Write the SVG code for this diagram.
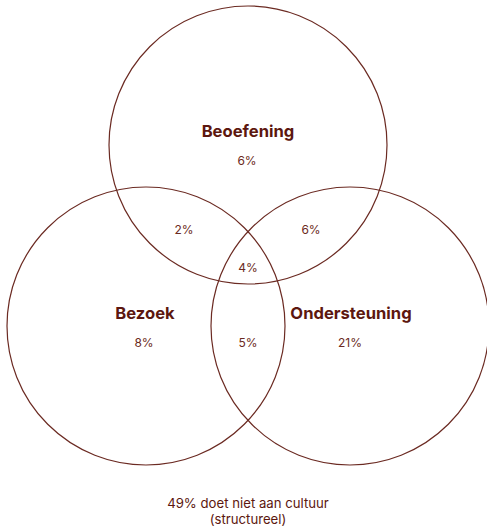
<svg xmlns="http://www.w3.org/2000/svg" width="487" height="530" viewBox="0 0 487 530">
<style>
.c{fill:none;stroke:#6b2a22;stroke-width:1.2}
.t{font-family:Inter,"Liberation Sans",sans-serif;font-weight:700;font-size:16.6px;fill:#5c170f;text-anchor:middle}
.p{font-family:Inter,"Liberation Sans",sans-serif;font-size:12px;fill:#6b2a22;text-anchor:middle}
.f{font-family:Inter,"Liberation Sans",sans-serif;font-size:13.2px;fill:#5c170f;text-anchor:middle}
</style>
<rect width="487" height="530" fill="#fff"/>
<g id="beoefening">
<circle class="c" cx="248" cy="145" r="139"/>
<text class="t" x="248" y="137">Beoefening</text>
<text class="p" x="247" y="165">6%</text>
</g>
<g id="bezoek">
<circle class="c" cx="146" cy="326" r="139"/>
<text class="t" x="145" y="319">Bezoek</text>
<text class="p" x="144" y="347">8%</text>
</g>
<g id="ondersteuning">
<circle class="c" cx="350" cy="326" r="139"/>
<text class="t" x="351" y="319">Ondersteuning</text>
<text class="p" x="350" y="347">21%</text>
</g>
<g id="overlaps">
<text class="p" x="184" y="234">2%</text>
<text class="p" x="311" y="234">6%</text>
<text class="p" x="248" y="272">4%</text>
<text class="p" x="248" y="347">5%</text>
</g>
<g id="footer">
<text class="f" x="248" y="508">49% doet niet aan cultuur</text>
<text class="f" x="248" y="524">(structureel)</text>
</g>
</svg>
